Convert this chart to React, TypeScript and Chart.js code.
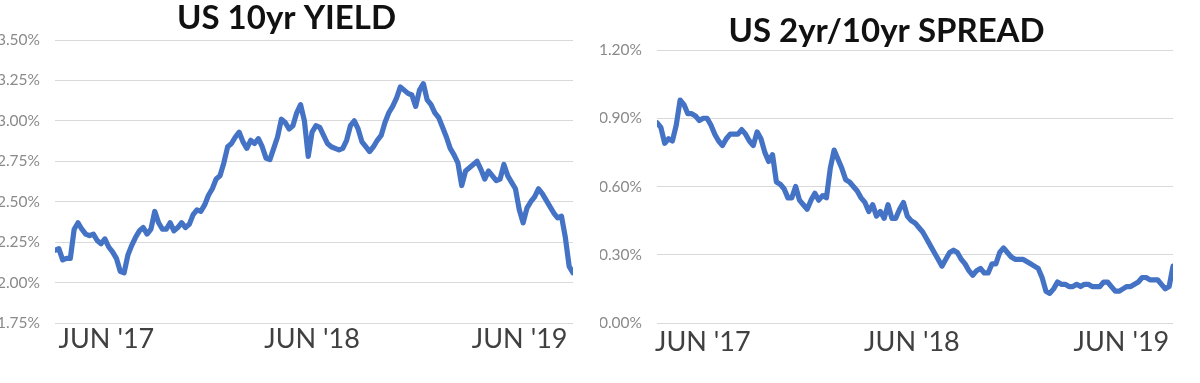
import React, { useEffect, useRef } from "react";
import { Chart, registerables } from "chart.js";

Chart.register(...registerables);

// US 10yr yield (%), roughly weekly samples, Jun 2017 -> Aug 2019
const yieldValues = [
  2.20, 2.21, 2.14, 2.15, 2.15, 2.33, 2.37, 2.33, 2.30, 2.29,
  2.30, 2.26, 2.24, 2.27, 2.22, 2.19, 2.15, 2.07, 2.06, 2.17,
  2.23, 2.28, 2.32, 2.34, 2.30, 2.33, 2.44, 2.37, 2.33, 2.33,
  2.37, 2.32, 2.34, 2.37, 2.34, 2.36, 2.42, 2.45, 2.44, 2.48,
  2.54, 2.58, 2.64, 2.66, 2.74, 2.84, 2.86, 2.90, 2.93, 2.87,
  2.83, 2.88, 2.86, 2.89, 2.84, 2.77, 2.76, 2.83, 2.90, 3.01,
  2.99, 2.95, 2.97, 3.05, 3.10, 3.00, 2.78, 2.93, 2.97, 2.96,
  2.91, 2.86, 2.84, 2.83, 2.82, 2.83, 2.88, 2.97, 3.00, 2.95,
  2.87, 2.84, 2.81, 2.84, 2.88, 2.91, 2.99, 3.05, 3.09, 3.14,
  3.21, 3.19, 3.17, 3.16, 3.09, 3.19, 3.23, 3.13, 3.10, 3.05,
  3.02, 2.96, 2.90, 2.83, 2.79, 2.74, 2.60, 2.69, 2.71, 2.73,
  2.75, 2.70, 2.64, 2.69, 2.66, 2.63, 2.64, 2.73, 2.66, 2.62,
  2.58, 2.45, 2.37, 2.46, 2.50, 2.53, 2.58, 2.55, 2.51, 2.47,
  2.43, 2.40, 2.41, 2.28, 2.10, 2.06,
];

// US 2yr/10yr spread (%), same period
const spreadValues = [
  0.88, 0.86, 0.79, 0.81, 0.80, 0.87, 0.98, 0.96, 0.92, 0.92,
  0.91, 0.89, 0.90, 0.90, 0.87, 0.83, 0.80, 0.78, 0.81, 0.83,
  0.83, 0.83, 0.85, 0.83, 0.80, 0.78, 0.84, 0.81, 0.75, 0.71,
  0.74, 0.62, 0.61, 0.59, 0.55, 0.55, 0.60, 0.54, 0.52, 0.50,
  0.54, 0.57, 0.54, 0.56, 0.55, 0.68, 0.76, 0.72, 0.68, 0.63,
  0.62, 0.60, 0.58, 0.55, 0.53, 0.49, 0.52, 0.47, 0.49, 0.46,
  0.52, 0.46, 0.46, 0.50, 0.53, 0.47, 0.45, 0.44, 0.42, 0.40,
  0.37, 0.34, 0.31, 0.28, 0.25, 0.28, 0.31, 0.32, 0.31, 0.28,
  0.26, 0.23, 0.21, 0.23, 0.24, 0.22, 0.22, 0.26, 0.26, 0.31,
  0.33, 0.31, 0.29, 0.28, 0.28, 0.28, 0.27, 0.26, 0.25, 0.24,
  0.20, 0.14, 0.13, 0.15, 0.18, 0.17, 0.17, 0.16, 0.16, 0.17,
  0.16, 0.17, 0.17, 0.16, 0.16, 0.16, 0.18, 0.18, 0.16, 0.14,
  0.14, 0.15, 0.16, 0.16, 0.17, 0.18, 0.20, 0.20, 0.19, 0.19,
  0.19, 0.17, 0.15, 0.16, 0.25,
];

// x-axis tick labels and the sample index where each sits
const xTickLabels = ["JUN '17", "JUN '18", "JUN '19"];
const yieldTickIndex = [13.4, 67.0, 121.1];
const spreadTickIndex = [11.9, 66.2, 120.6];

// y-axis ranges
const yieldAxis = [1.75, 3.5, 0.25]; // min, max, step
const spreadAxis = [0, 1.2, 0.3];

const FONT = "Lato, 'Open Sans', sans-serif";
const BLUE = "#4472C4";

type Props = {
  title: string;
  values: number[];
  tickIndex: number[];
  axis: number[];
  left: number;
  yAxisWidth: number;
  titleTop: number;
  titleBottom: number;
  xLabelPad: number;
};

function LineChart(p: Props) {
  const ref = useRef<HTMLCanvasElement | null>(null);
  useEffect(() => {
    if (!ref.current) return;
    const data = p.values.map((v, i) => ({ x: i, y: v }));
    const chart = new Chart(ref.current, {
      type: "line",
      data: {
        datasets: [
          {
            data,
            borderColor: BLUE,
            borderWidth: 5.2,
            pointRadius: 0,
            tension: 0,
            borderJoinStyle: "round",
            borderCapStyle: "round",
            fill: false,
          },
        ],
      },
      options: {
        responsive: false,
        animation: false,
        layout: { padding: { left: 0, right: 27, top: 0, bottom: 0 } },
        plugins: {
          legend: { display: false },
          tooltip: { enabled: false },
          title: {
            display: true,
            text: p.title,
            color: "#111",
            font: { family: FONT, size: 33, weight: "bold", lineHeight: 1.1 },
            padding: { top: p.titleTop, bottom: p.titleBottom },
          },
        },
        scales: {
          x: {
            type: "linear",
            min: 0,
            max: p.values.length - 1,
            grid: { display: false, drawTicks: false },
            border: { display: false },
            afterBuildTicks: (scale: any) => {
              scale.ticks = p.tickIndex.map((v) => ({ value: v }));
            },
            afterFit: (scale: any) => {
              scale.height = 60;
            },
            ticks: {
              autoSkip: false,
              maxRotation: 0,
              padding: p.xLabelPad,
              color: "#404040",
              font: { family: FONT, size: 27 },
              callback: (value: any) => {
                const k = p.tickIndex.indexOf(Number(value));
                return k >= 0 ? xTickLabels[k] : "";
              },
            },
          },
          y: {
            min: p.axis[0],
            max: p.axis[1],
            grid: { color: "#d9d9d9", lineWidth: 1, drawTicks: false },
            border: { display: false },
            afterFit: (scale: any) => {
              scale.width = p.yAxisWidth;
            },
            ticks: {
              stepSize: p.axis[2],
              padding: 15,
              color: "#8a8a8a",
              font: { family: FONT, size: 15.5 },
              callback: (value: any) => Number(value).toFixed(2) + "%",
            },
          },
        },
      },
    });
    return () => chart.destroy();
  }, []);
  return (
    <div style={{ position: "absolute", left: p.left, top: 0, width: 600, height: 383 }}>
      <canvas ref={ref} width={600} height={383} style={{ width: 600, height: 383, display: "block" }} />
    </div>
  );
}

export default function App() {
  return (
    <div style={{ position: "absolute", left: 0, top: 0, width: 1200, height: 383, background: "#fff", overflow: "hidden" }}>
      <LineChart
        title="US 10yr YIELD"
        values={yieldValues}
        tickIndex={yieldTickIndex}
        axis={yieldAxis}
        left={0}
        yAxisWidth={55}
        titleTop={0}
        titleBottom={3.7}
        xLabelPad={0}
      />
      <LineChart
        title="US 2yr/10yr SPREAD"
        values={spreadValues}
        tickIndex={spreadTickIndex}
        axis={spreadAxis}
        left={600}
        yAxisWidth={57}
        titleTop={12.85}
        titleBottom={0.85}
        xLabelPad={3}
      />
    </div>
  );
}
